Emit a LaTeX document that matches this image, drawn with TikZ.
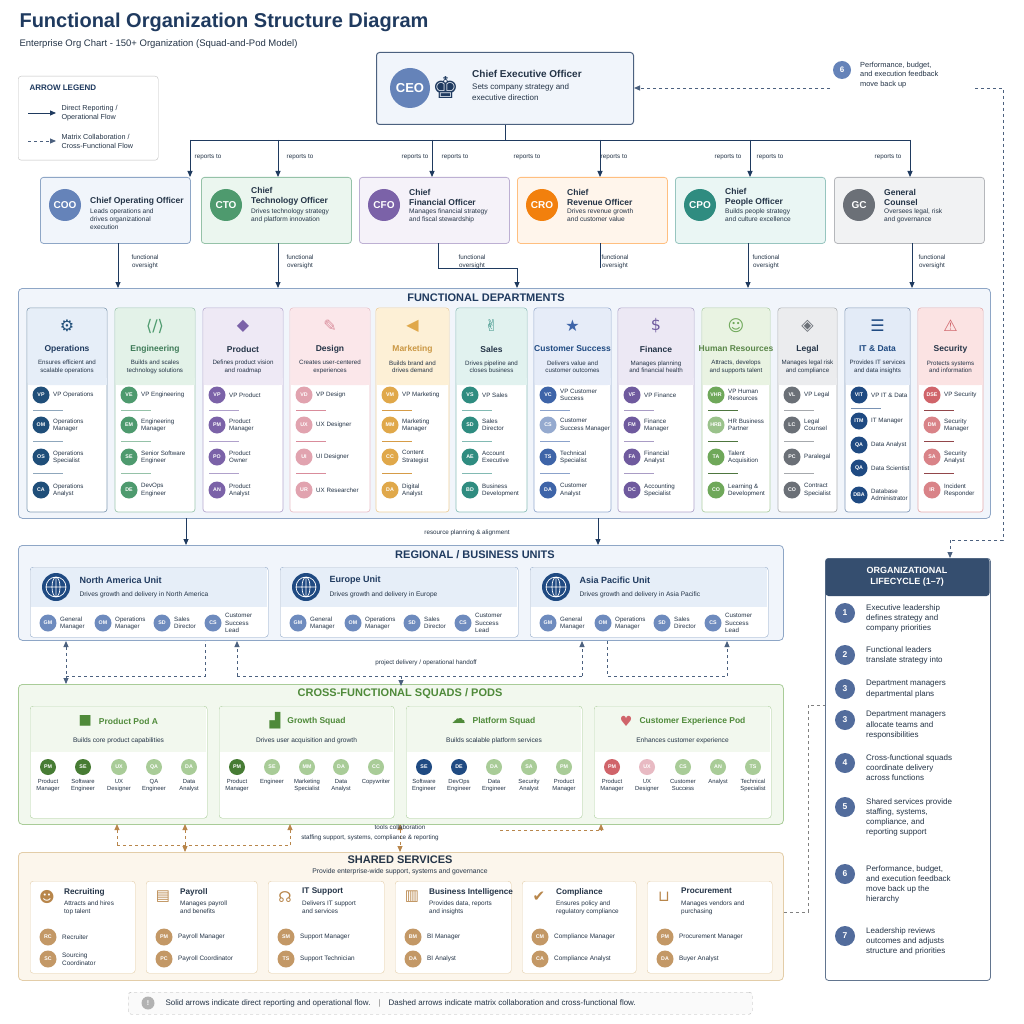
\documentclass[tikz,border=0pt]{standalone}
\usepackage{fontspec}
\setmainfont{Liberation Sans}
\newfontfamily\sym{DejaVu Sans}
\usetikzlibrary{arrows.meta}
\definecolor{navy}{HTML}{1F3A5F}
\definecolor{txt}{HTML}{243447}
\definecolor{lblue}{HTML}{F1F5FB}
\definecolor{bord}{HTML}{8EA6C6}
\definecolor{ops}{HTML}{1F4E79}\definecolor{opsH}{HTML}{E6EEF8}
\definecolor{eng}{HTML}{4E9A6E}\definecolor{engH}{HTML}{E3F2E8}
\definecolor{prd}{HTML}{7B62A8}\definecolor{prdH}{HTML}{EEE9F5}
\definecolor{dsg}{HTML}{D98C9B}\definecolor{dsgH}{HTML}{FBE7EA}
\definecolor{mkt}{HTML}{E0A84A}\definecolor{mktH}{HTML}{FDF0D6}
\definecolor{sal}{HTML}{2F8C80}\definecolor{salH}{HTML}{E1F2EF}
\definecolor{csu}{HTML}{3E64A8}\definecolor{csuH}{HTML}{E6ECF8}
\definecolor{fin}{HTML}{6F5A9E}\definecolor{finH}{HTML}{ECE8F4}
\definecolor{hrc}{HTML}{6FA85A}\definecolor{hrcH}{HTML}{E9F3E2}
\definecolor{leg}{HTML}{6B7077}\definecolor{legH}{HTML}{EBECEE}
\definecolor{itd}{HTML}{1F4A82}\definecolor{itdH}{HTML}{E3EBF7}
\definecolor{sec}{HTML}{D0646A}\definecolor{secH}{HTML}{FBE3E3}
\definecolor{grn}{HTML}{4F8A3A}\definecolor{grnL}{HTML}{F2F8EE}\definecolor{grnB}{HTML}{A9CC98}
\definecolor{gold}{HTML}{B8864B}\definecolor{goldL}{HTML}{FCF6EC}\definecolor{goldB}{HTML}{E3CDA8}
\tikzset{
  panel/.style={draw=bord,fill=lblue,rounded corners=4,line width=0.8pt},
  solidarr/.style={draw=navy,line width=0.9pt,-{Triangle[length=6pt,width=5pt]}},
  dasharr/.style={draw=navy!80,line width=0.9pt,dashed,-{Triangle[length=6pt,width=5pt]}},
  goldarr/.style={draw=gold,line width=0.9pt,dashed,-{Triangle[length=6pt,width=5pt]}},
  lbl/.style={font=\fontsize{6.3}{7.3}\selectfont,text=txt,align=center},
  ptitle/.style={font=\bfseries\fontsize{11}{12}\selectfont,text=navy}
}
\newcommand\rl[5]{\node[circle,fill=#3,text=white,font=\bfseries\fontsize{5.3}{6}\selectfont,inner sep=0,minimum size=17pt] at (#1,#2) {#4};
 \node[anchor=west,align=left,font=\fontsize{6.2}{7.2}\selectfont,text=txt,inner sep=0] at ({#1+12},#2) {#5};}
\newcommand\sep[3]{\draw[#3,line width=1pt] ({#1-8},#2) -- ({#1+22},#2);}
\newcommand\dept[9]{%
 \draw[rounded corners=3,draw=#3!55,fill=white,line width=0.7pt] (#1,308) rectangle ({#1+#2},512);
 \fill[#4,rounded corners=3] ({#1+0.5},385) -- ({#1+0.5},308.5) -- ({#1+#2-0.5},308.5) -- ({#1+#2-0.5},385) -- cycle;
 \fill[#4] ({#1+0.5},378) rectangle ({#1+#2-0.5},385);
 \node[text=#3,font=\sym\fontsize{16}{16}\selectfont] at ({#1+#2/2},326) {#6};
 \node[font=\bfseries\fontsize{8.5}{9}\selectfont,text=#5] at ({#1+#2/2},349) {#7};
 \node[font=\fontsize{6.2}{7.4}\selectfont,text=txt,align=center] at ({#1+#2/2},367) {#8\\#9};}
\newcommand\exe[8]{% x color fill border abbr name desc nodename
 \node[draw=#4,fill=#3,rounded corners=3,line width=0.8pt,minimum width=150pt,minimum height=66pt,anchor=north west] (#8) at (#1,177) {};
 \node[circle,fill=#2,text=white,font=\bfseries\fontsize{10}{10}\selectfont,inner sep=0,minimum size=32pt] at ({#1+25},205) {#5};
 \node[anchor=south west,align=left,inner sep=0,text=txt,font=\bfseries\fontsize{8.5}{10}\selectfont] at ({#1+50},206) {#6};
 \node[anchor=north west,align=left,inner sep=0,text=txt,font=\fontsize{6.6}{7.8}\selectfont] at ({#1+50},209) {#7};}
\newcommand\unit[4]{% x name desc nodename
 \node[draw=bord,fill=white,rounded corners=3,minimum width=238pt,minimum height=70pt,anchor=north west] (#4) at (#1,567) {};
 \fill[opsH] ({#1+1},568) rectangle ({#1+237},607);
 \node[circle,fill=itd,inner sep=0,minimum size=28pt] at ({#1+26},587) {};
 \draw[white,line width=0.7pt] ({#1+26},587) circle (10) ({#1+16},587) -- ({#1+36},587) ({#1+26},577) -- ({#1+26},597) ({#1+26},587) ellipse (4 and 10);
 \node[anchor=west,font=\bfseries\fontsize{9}{9}\selectfont,text=navy] at ({#1+46},580) {#2};
 \node[anchor=west,font=\fontsize{6.6}{7}\selectfont,text=txt] at ({#1+46},595) {#3};
 \rl{#1+18}{623}{csu!75}{GM}{General\\Manager}
 \rl{#1+73}{623}{csu!75}{OM}{Operations\\Manager}
 \rl{#1+132}{623}{csu!75}{SD}{Sales\\Director}
 \rl{#1+183}{623}{csu!75}{CS}{Customer\\Success\\Lead}}
\newcommand\mb[4]{\node[circle,fill=#2,text=white,font=\bfseries\fontsize{5.3}{6}\selectfont,inner sep=0,minimum size=16pt] at (#1,767) {#3};
 \node[anchor=north,font=\fontsize{5.9}{7}\selectfont,text=txt,align=center,inner sep=0] at (#1,779) {#4};}
\newcommand\pod[6]{% x w icon title desc name
 \node[draw=grnB,fill=white,rounded corners=3,minimum width=#2pt,minimum height=112pt,anchor=north west] (#6) at (#1,706) {};
 \fill[grnL] ({#1+1},707) rectangle ({#1+#2-1},752);
 \node[font=\bfseries\fontsize{8.5}{9}\selectfont,text=grn] (#6t) at ({#1+#2/2+10},721) {#4};
 \node[anchor=east,font=\sym\fontsize{14}{14}\selectfont,text=grn] at (#6t.west) {#3};
 \node[font=\fontsize{6.6}{7}\selectfont,text=txt] at ({#1+#2/2},741) {#5};}
\newcommand\svc[9]{% x w icon title desc r1a r1 r2a r2
 \node[draw=goldB,fill=white,rounded corners=3,minimum width=#2pt,minimum height=92pt,anchor=north west] at (#1,881) {};
 \node[font=\sym\fontsize{15}{15}\selectfont,text=gold] at ({#1+17},897) {#3};
 \node[anchor=north west,inner sep=0,text=txt,font=\bfseries\fontsize{8.2}{9}\selectfont] at ({#1+34},888) {#4};
 \node[anchor=north west,align=left,inner sep=0,text=txt,font=\fontsize{6.4}{7.8}\selectfont] at ({#1+34},901) {#5};
 \node[circle,fill=gold!85,text=white,font=\bfseries\fontsize{5.3}{6}\selectfont,inner sep=0,minimum size=17pt] at ({#1+18},937) {#6};
 \node[anchor=west,align=left,font=\fontsize{6.4}{7.4}\selectfont,text=txt,inner sep=0] at ({#1+32},937) {#7};
 \node[circle,fill=gold!85,text=white,font=\bfseries\fontsize{5.3}{6}\selectfont,inner sep=0,minimum size=17pt] at ({#1+18},959) {#8};
 \node[anchor=west,align=left,font=\fontsize{6.4}{7.4}\selectfont,text=txt,inner sep=0] at ({#1+32},959) {#9};}
\newcommand\lc[3]{\node[circle,fill=csu!70!gray,text=white,font=\bfseries\fontsize{8.5}{8.5}\selectfont,inner sep=0,minimum size=20pt] at (845,#1) {#2};
 \node[anchor=north west,align=left,font=\fontsize{8}{10.3}\selectfont,text=txt,inner sep=0] at (866,{#1-9}) {#3};}
\begin{document}
\begin{tikzpicture}[x=1pt,y=-1pt]
\useasboundingbox[fill=white] (0,0) rectangle (1024,1024);
% title
\node[anchor=west,font=\bfseries\fontsize{20}{21}\selectfont,text=navy] (title) at (16,22) {Functional Organization Structure Diagram};
\node[anchor=west,font=\fontsize{9.5}{10}\selectfont,text=txt] (sub) at (16,44) {Enterprise Org Chart - 150+ Organization (Squad-and-Pod Model)};
% legend
\node[draw=gray!50,fill=white,rounded corners=3,minimum width=140pt,minimum height=84pt,anchor=north west] (legend) at (18,76) {};
\node[anchor=west,font=\bfseries\fontsize{8}{8}\selectfont,text=navy] at (26,88) {ARROW LEGEND};
\coordinate (l1a) at (28,113);\coordinate (l1b) at (56,113);
\coordinate (l2a) at (28,141);\coordinate (l2b) at (56,141);
\draw[solidarr] (l1a) -- (l1b);\draw[dasharr] (l2a) -- (l2b);
\node[anchor=west,align=left,font=\fontsize{7.2}{9}\selectfont,text=txt] at (58,113) {Direct Reporting /\\Operational Flow};
\node[anchor=west,align=left,font=\fontsize{7.2}{9}\selectfont,text=txt] at (58,141) {Matrix Collaboration /\\Cross-Functional Flow};
% CEO
\node[draw=navy!80,fill=lblue,rounded corners=3,line width=1pt,minimum width=257pt,minimum height=72pt,anchor=north west] (ceo) at (376,52) {};
\node[circle,fill=csu!80,text=white,font=\bfseries\fontsize{13}{13}\selectfont,inner sep=0,minimum size=40pt] at (410,88) {CEO};
\node[font=\sym\fontsize{30}{30}\selectfont,text=navy] at (446,88) {♚};
\node[anchor=west,inner sep=0,text=txt,font=\bfseries\fontsize{10}{11}\selectfont] at (472,74) {Chief Executive Officer};
\node[anchor=north west,align=left,inner sep=0,text=txt,font=\fontsize{8}{10.5}\selectfont] at (472,84) {Sets company strategy and\\executive direction};
% feedback note
\node[circle,fill=csu!80,text=white,font=\bfseries\fontsize{8}{8}\selectfont,inner sep=0,minimum size=18pt] (six) at (842,70) {6};
\node[anchor=north west,align=left,font=\fontsize{7.4}{9.3}\selectfont,text=txt,inner sep=0] (fbt) at (860,62) {Performance, budget,\\and execution feedback\\move back up};
\coordinate (fbL) at (830,88);\coordinate (fbR) at (975,88);
\draw[dasharr] (fbL) -- (ceo.east |- fbL);
% execs
\exe{40}{csu!80}{lblue}{bord}{COO}{Chief Operating Officer}{Leads operations and\\drives organizational\\execution}{coo}
\exe{201}{eng}{engH!70}{eng!60}{CTO}{Chief\\Technology Officer}{Drives technology strategy\\and platform innovation}{cto}
\exe{359}{prd}{prdH!60}{prd!50}{CFO}{Chief\\Financial Officer}{Manages financial strategy\\and fiscal stewardship}{cfo}
\exe{517}{orange!80!brown}{orange!8}{orange!50}{CRO}{Chief\\Revenue Officer}{Drives revenue growth\\and customer value}{cro}
\exe{675}{sal}{salH!70}{sal!50}{CPO}{Chief\\People Officer}{Builds people strategy\\and culture excellence}{cpo}
\exe{834}{leg}{legH!70}{leg!50}{GC}{General\\Counsel}{Oversees legal, risk\\and governance}{gc}
% reports-to bus
\coordinate (bus) at (ceo.south |- 0,140);
\draw[navy,line width=0.9pt] (ceo.south) -- (bus);
\draw[navy,line width=0.9pt] (190,140) -- (910,140);
\foreach \xx in {190,278,432,600,750,910}{\draw[solidarr] (\xx,140) -- (\xx,177);}
\foreach \xx in {208,300,415,455,527,614,728,770,888}{\node[lbl] at (\xx,157) {reports to};}
% functional oversight
\draw[solidarr] (118,243) -- (118,288);
\draw[solidarr] (278,243) -- (278,288);
\draw[navy,line width=0.9pt] (438,243) -- (438,268) -- (517,268);
\draw[solidarr] (517,268) -- (517,288);
\draw[navy,line width=0.9pt] (600,243) -- (600,268);
\draw[solidarr] (748,243) -- (748,288);
\draw[solidarr] (912,243) -- (912,288);
\foreach \xx in {145,300,472,615,766,932}{\node[lbl] at (\xx,262) {functional\\oversight};}
% functional departments
\node[panel,minimum width=972pt,minimum height=230pt,anchor=north west] (fd) at (18,288) {};
\node[ptitle] at (486,298) {FUNCTIONAL DEPARTMENTS};
\dept{27}{80}{ops}{opsH}{navy}{⚙}{Operations}{Ensures efficient and}{scalable operations}
\dept{115}{80}{eng}{engH}{eng!80!black}{⟨/⟩}{Engineering}{Builds and scales}{technology solutions}
\dept{203}{80}{prd}{prdH}{txt}{◆}{Product}{Defines product vision}{and roadmap}
\dept{290}{80}{dsg}{dsgH}{txt}{✎}{Design}{Creates user-centered}{experiences}
\dept{376}{73}{mkt}{mktH}{mkt!90!black}{◀}{Marketing}{Builds brand and}{drives demand}
\dept{456}{71}{sal}{salH}{txt}{✌}{Sales}{Drives pipeline and}{closes business}
\dept{534}{77}{csu}{csuH}{itd}{★}{Customer Success}{Delivers value and}{customer outcomes}
\dept{618}{76}{fin}{finH}{txt}{\$}{Finance}{Manages planning}{and financial health}
\dept{702}{68}{hrc}{hrcH}{hrc!80!black}{☺}{Human Resources}{Attracts, develops}{and supports talent}
\dept{778}{59}{leg}{legH}{txt}{◈}{Legal}{Manages legal risk}{and compliance}
\dept{845}{65}{itd}{itdH}{itd}{☰}{IT \& Data}{Provides IT services}{and data insights}
\dept{918}{65}{sec}{secH}{txt}{⚠}{Security}{Protects systems}{and information}
% roles
\rl{41}{395}{ops}{VP}{VP Operations}\sep{41}{410}{ops!50}\rl{41}{425}{ops}{OM}{Operations\\Manager}\sep{41}{441}{ops!50}\rl{41}{457}{ops}{OS}{Operations\\Specialist}\sep{41}{473}{ops!50}\rl{41}{490}{ops}{CA}{Operations\\Analyst}
\rl{129}{395}{eng}{VE}{VP Engineering}\sep{129}{410}{eng!60}\rl{129}{425}{eng}{EM}{Engineering\\Manager}\sep{129}{441}{eng!60}\rl{129}{457}{eng}{SE}{Senior Software\\Engineer}\sep{129}{473}{eng!60}\rl{129}{490}{eng}{DE}{DevOps\\Engineer}
\rl{217}{395}{prd}{VP}{VP Product}\sep{217}{410}{prd!60}\rl{217}{425}{prd}{PM}{Product\\Manager}\sep{217}{441}{prd!60}\rl{217}{457}{prd}{PO}{Product\\Owner}\sep{217}{473}{prd!60}\rl{217}{490}{prd}{AN}{Product\\Analyst}
\rl{304}{395}{dsg!80}{VD}{VP Design}\sep{304}{410}{dsg}\rl{304}{425}{dsg!80}{UX}{UX Designer}\sep{304}{441}{dsg}\rl{304}{457}{dsg!80}{UI}{UI Designer}\sep{304}{473}{dsg}\rl{304}{490}{dsg!80}{UR}{UX Researcher}
\rl{390}{395}{mkt}{VM}{VP Marketing}\sep{390}{410}{mkt!70!brown}\rl{390}{425}{mkt}{MM}{Marketing\\Manager}\sep{390}{441}{mkt!70!brown}\rl{390}{457}{mkt}{CC}{Content\\Strategist}\sep{390}{473}{mkt!70!brown}\rl{390}{490}{mkt}{DA}{Digital\\Analyst}
\rl{470}{395}{sal}{VS}{VP Sales}\sep{470}{410}{sal!60}\rl{470}{425}{sal}{SD}{Sales\\Director}\sep{470}{441}{sal!60}\rl{470}{457}{sal}{AE}{Account\\Executive}\sep{470}{473}{sal!60}\rl{470}{490}{sal}{BD}{Business\\Development}
\rl{548}{395}{csu}{VC}{VP Customer\\Success}\sep{548}{410}{csu!60}\rl{548}{425}{csu!55}{CS}{Customer\\Success Manager}\sep{548}{441}{csu!60}\rl{548}{457}{csu}{TS}{Technical\\Specialist}\sep{548}{473}{csu!60}\rl{548}{490}{csu}{DA}{Customer\\Analyst}
\rl{632}{395}{fin}{VF}{VP Finance}\sep{632}{410}{fin!60}\rl{632}{425}{fin}{FM}{Finance\\Manager}\sep{632}{441}{fin!60}\rl{632}{457}{fin}{FA}{Financial\\Analyst}\sep{632}{473}{fin!60}\rl{632}{490}{fin}{DC}{Accounting\\Specialist}
\rl{716}{395}{hrc}{VHR}{VP Human\\Resources}\sep{716}{410}{hrc!70!black}\rl{716}{425}{hrc!70}{HRB}{HR Business\\Partner}\sep{716}{441}{hrc!70!black}\rl{716}{457}{hrc}{TA}{Talent\\Acquisition}\sep{716}{473}{hrc!70!black}\rl{716}{490}{hrc}{CO}{Learning \&\\Development}
\rl{792}{395}{leg}{VL}{VP Legal}\sep{792}{410}{leg!60}\rl{792}{425}{leg}{LC}{Legal\\Counsel}\sep{792}{441}{leg!60}\rl{792}{457}{leg}{PC}{Paralegal}\sep{792}{473}{leg!60}\rl{792}{490}{leg}{CO}{Contract\\Specialist}
\rl{859}{395}{itd}{VIT}{VP IT \& Data}\sep{859}{408}{itd!60}\rl{859}{421}{itd}{ITM}{IT Manager}\rl{859}{445}{itd}{QA}{Data Analyst}\rl{859}{468}{itd}{QA}{Data Scientist}\rl{859}{495}{itd}{DBA}{Database\\Administrator}
\rl{932}{395}{sec}{DSE}{VP Security}\sep{932}{410}{sec!70!black}\rl{932}{425}{sec!80}{DM}{Security\\Manager}\sep{932}{441}{sec!70!black}\rl{932}{457}{sec!80}{SA}{Security\\Analyst}\sep{932}{473}{sec!70!black}\rl{932}{490}{sec!80}{IR}{Incident\\Responder}
% FD -> regional
\draw[solidarr] (186,518) -- (186,545);
\draw[solidarr] (598,518) -- (598,545);
\node[lbl] at (467,533) {resource planning \& alignment};
% regional
\node[panel,minimum width=765pt,minimum height=95pt,anchor=north west] (reg) at (18,545) {};
\node[ptitle] at (475,555) {REGIONAL / BUSINESS UNITS};
\unit{30}{North America Unit}{Drives growth and delivery in North America}{na}
\unit{280}{Europe Unit}{Drives growth and delivery in Europe}{eu}
\unit{530}{Asia Pacific Unit}{Drives growth and delivery in Asia Pacific}{ap}
% squads
\node[panel,draw=grnB,fill=grnL,minimum width=765pt,minimum height=140pt,anchor=north west] (sq) at (18,684) {};
\node[ptitle,text=grn] at (400,694) {CROSS-FUNCTIONAL SQUADS / PODS};
% regional <-> squads
\draw[dasharr,{Triangle[length=6pt,width=5pt]}-{Triangle[length=6pt,width=5pt]}] (66,641) -- (66,684);
\draw[navy!80,dashed,line width=0.9pt] (66,676) -- (205,676) -- (205,641);
\draw[dasharr] (237,676) -- (237,641);
\draw[navy!80,dashed,line width=0.9pt] (237,676) -- (582,676);
\draw[dasharr] (582,676) -- (582,641);
\draw[dasharr] (401,676) -- (401,686);
\draw[navy!80,dashed,line width=0.9pt] (607,641) -- (607,676) -- (727,676);
\draw[dasharr] (727,676) -- (727,641);
\node[lbl] at (426,663) {project delivery / operational handoff};
\pod{30}{177}{■}{Product Pod A}{Builds core product capabilities}{pa}
\mb{48}{grn!90!black}{PM}{Product\\Manager}\mb{83}{grn!90!black}{SE}{Software\\Engineer}\mb{119}{grnB}{UX}{UX\\Designer}\mb{154}{grnB}{QA}{QA\\Engineer}\mb{189}{grnB}{DA}{Data\\Analyst}
\pod{219}{175}{▟}{Growth Squad}{Drives user acquisition and growth}{gs}
\mb{237}{grn!90!black}{PM}{Product\\Manager}\mb{272}{grnB}{SE}{Engineer}\mb{307}{grnB}{MM}{Marketing\\Specialist}\mb{341}{grnB}{DA}{Data\\Analyst}\mb{376}{grnB}{CC}{Copywriter}
\pod{406}{176}{☁}{Platform Squad}{Builds scalable platform services}{ps}
\mb{424}{itd}{SE}{Software\\Engineer}\mb{459}{itd}{DE}{DevOps\\Engineer}\mb{494}{grnB}{DA}{Data\\Engineer}\mb{529}{grnB}{SA}{Security\\Analyst}\mb{564}{grnB}{PM}{Product\\Manager}
\pod{594}{177}{\textcolor{sec}{♥}}{Customer Experience Pod}{Enhances customer experience}{cx}
\mb{612}{sec}{PM}{Product\\Manager}\mb{647}{dsg!60}{UX}{UX\\Designer}\mb{683}{grnB}{CS}{Customer\\Success}\mb{718}{grnB}{AN}{Analyst}\mb{753}{grnB}{TS}{Technical\\Specialist}
% squads <-> shared
\draw[goldarr] (117,845) -- (117,824);
\draw[gold,dashed,line width=0.9pt] (117,845) -- (290,845);
\draw[goldarr] (290,845) -- (290,824);
\draw[goldarr,{Triangle[length=6pt,width=5pt]}-{Triangle[length=6pt,width=5pt]}] (185,824) -- (185,852);
\draw[goldarr,{Triangle[length=6pt,width=5pt]}-{Triangle[length=6pt,width=5pt]}] (400,824) -- (400,852);
\draw[gold,dashed,line width=0.9pt] (500,830) -- (601,830);
\draw[goldarr] (601,830) -- (601,824);
\node[lbl] at (400,827) {tools collaboration};
\node[lbl] at (370,838) {staffing support, systems, compliance \& reporting};
% shared services
\node[panel,draw=goldB,fill=goldL,minimum width=765pt,minimum height=128pt,anchor=north west] (ss) at (18,852) {};
\node[ptitle,text=txt] at (400,860) {SHARED SERVICES};
\node[font=\fontsize{6.8}{7}\selectfont,text=txt] at (400,872) {Provide enterprise-wide support, systems and governance};
\svc{30}{105}{☻}{Recruiting}{Attracts and hires\\top talent}{RC}{Recruiter}{SC}{Sourcing\\Coordinator}
\svc{146}{111}{▤}{Payroll}{Manages payroll\\and benefits}{PM}{Payroll Manager}{PC}{Payroll Coordinator}
\svc{268}{116}{☊}{IT Support}{Delivers IT support\\and services}{SM}{Support Manager}{TS}{Support Technician}
\svc{395}{116}{▥}{Business Intelligence}{Provides data, reports\\and insights}{BM}{BI Manager}{DA}{BI Analyst}
\svc{522}{114}{✔}{Compliance}{Ensures policy and\\regulatory compliance}{CM}{Compliance Manager}{CA}{Compliance Analyst}
\svc{647}{125}{⊔}{Procurement}{Manages vendors and\\purchasing}{PM}{Procurement Manager}{DA}{Buyer Analyst}
% lifecycle
\node[draw=navy!70,fill=white,rounded corners=3,line width=0.8pt,minimum width=165pt,minimum height=422pt,anchor=north west] (life) at (825,558) {};
\fill[navy!90,rounded corners=3] (825.5,596) -- (825.5,558.5) -- (989.5,558.5) -- (989.5,596) -- cycle;
\node[font=\bfseries\fontsize{9}{11.5}\selectfont,text=white,align=center] at (907,577) {ORGANIZATIONAL\\LIFECYCLE (1–7)};
\lc{613}{1}{Executive leadership\\defines strategy and\\company priorities}
\lc{655}{2}{Functional leaders\\translate strategy into}
\lc{689}{3}{Department managers\\departmental plans}
\lc{720}{3}{Department managers\\allocate teams and\\responsibilities}
\lc{763}{4}{Cross-functional squads\\coordinate delivery\\across functions}
\lc{807}{5}{Shared services provide\\staffing, systems,\\compliance, and\\reporting support}
\lc{874}{6}{Performance, budget,\\and execution feedback\\move back up the\\hierarchy}
\lc{936}{7}{Leadership reviews\\outcomes and adjusts\\structure and priorities}
% feedback loop
\coordinate (c1) at (1003,88);\coordinate (c2) at (1003,540);\coordinate (c3) at (950,540);
\draw[navy!80,dashed,line width=0.9pt] (fbR) -- (c1) -- (c2) -- (c3);
\draw[dasharr] (c3) -- (life.north -| c3);
\coordinate (d1) at (808,912);\coordinate (d2) at (808,705);
\draw[gray,dashed,line width=0.7pt] (ss.east |- d1) -- (d1) -- (d2) -- (life.west |- d2);
% note
\node[draw=gray!60,dashed,fill=gray!4,rounded corners=3,minimum width=624pt,minimum height=22pt,anchor=north west] (note) at (128,992) {};
\node[circle,fill=gray!60,text=white,font=\bfseries\fontsize{7}{7}\selectfont,inner sep=0,minimum size=13pt] at (148,1003) {!};
\node[anchor=west,font=\fontsize{8}{8}\selectfont,text=txt] at (162,1003) {Solid arrows indicate direct reporting and operational flow.\quad\textcolor{gray}{|}\quad Dashed arrows indicate matrix collaboration and cross-functional flow.};
\end{tikzpicture}
\end{document}
